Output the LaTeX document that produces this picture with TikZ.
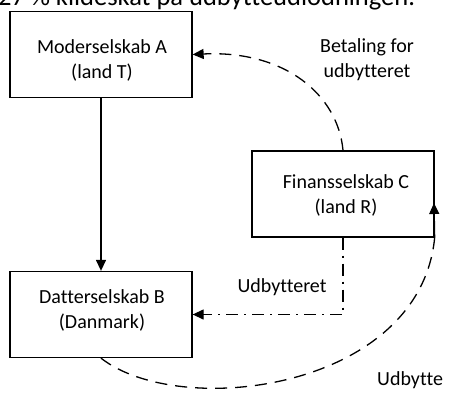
\documentclass[tikz,border=0pt]{standalone}
\usepackage{fontspec}
\setmainfont[Ligatures=NoCommon]{Carlito}
\usetikzlibrary{arrows.meta}
\begin{document}
\begin{tikzpicture}[x=1pt,y=-1pt,
  company/.style={draw=black, line width=1.3pt, minimum width=182pt, minimum height=86pt, inner sep=0pt},
  caption/.style={font=\fontsize{20}{25}\selectfont, align=center, inner sep=0pt},
  tip/.style={-{Triangle[length=11pt,width=10pt]}},
  flow/.style={line width=1.3pt},
  paydash/.style={flow, dash pattern=on 12pt off 8pt},
  dashdotline/.style={flow, dash pattern=on 12pt off 6pt on 2pt off 6pt}]
\useasboundingbox (0,0) rectangle (457,403);
\clip (0,0) rectangle (457,403);
\fill[white] (0,0) rectangle (457,403);

% heading line running off the top edge
\node[anchor=base west, inner sep=0pt, font=\fontsize{26.5}{30}\selectfont] (heading) at (-2,6) {27 \% kildeskat på udbytteudlodningen.};

% companies
\node[company] (A) at (101,54.5) {};
\node[company] (B) at (101,314.5) {};
\node[company] (C) at (343,194) {};

\node[caption] (Atext) at (102,60) {Moderselskab A\\(land T)};
\node[caption] (Btext) at (102,310) {Datterselskab B\\(Danmark)};
\node[caption] (Ctext) at (346,195) {Finansselskab C\\(land R)};

% ownership
\draw[flow, tip] (A.south) -- (B.north);

% dividend from C to B
\draw[dashdotline, tip] (C.south) |- (B.east);
\node[caption] (divlabel) at (282,287) {Udbytteret};

% payment from C to A
\draw[paydash, tip] (C.north) .. controls (338,95) and (285,50) .. (A.east);
\node[caption] (paylabel) at (367,60) {Betaling for\\udbytteret};

% dividend from B to C
\coordinate (Cin) at (434,203);
\draw[paydash] (B.south) .. controls (180,420) and (420,390) .. (C.south east);
\draw[flow, tip] (C.south east) -- (Cin);
\node[caption, anchor=west] (retlabel) at (377,380) {Udbytte};
\end{tikzpicture}
\end{document}
